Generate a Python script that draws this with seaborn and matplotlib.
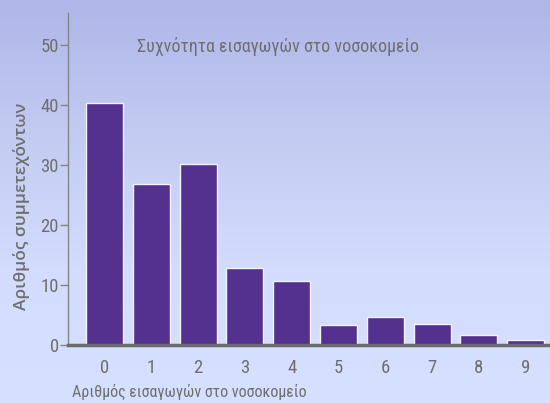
import numpy as np
import pandas as pd
import matplotlib
matplotlib.use("Agg")
import matplotlib.pyplot as plt
import seaborn as sns
from matplotlib.colors import LinearSegmentedColormap

# Hospital admissions: number of admissions vs number of participants
admissions = [0, 1, 2, 3, 4, 5, 6, 7, 8, 9]
participants = [40.3, 26.8, 30.2, 12.8, 10.7, 3.3, 4.7, 3.5, 1.7, 0.8]
y_ticks = [0, 10, 20, 30, 40, 50]

title_text = "Συχνότητα εισαγωγών στο νοσοκομείο"
x_label = "Αριθμός εισαγωγών στο νοσοκομείο"
y_label = "Αριθμός συμμετεχόντων"

df = pd.DataFrame({"admissions": [str(a) for a in admissions],
                   "participants": participants})

sns.set_theme(style="white")
plt.rcParams["font.family"] = ["Roboto Condensed", "Roboto", "DejaVu Sans"]

text_grey = "#6f6f6f"
bar_colour = "#54318f"

fig = plt.figure(figsize=(5.5, 4.03), dpi=100)

# vertical background gradient
bg = fig.add_axes([0, 0, 1, 1], zorder=0)
grad_cmap = LinearSegmentedColormap.from_list(
    "bg", ["#afb6e8", "#c3cbf2", "#d3dcfd", "#d6e0ff"])
bg.imshow(np.linspace(0, 1, 256).reshape(-1, 1), aspect="auto",
          cmap=grad_cmap, extent=[0, 1, 0, 1])
bg.set_axis_off()

ax = fig.add_axes([68 / 550, 58 / 403, 482 / 550, 332 / 403], zorder=1)
ax.patch.set_alpha(0)

sns.barplot(data=df, x="admissions", y="participants", ax=ax,
            color=bar_colour, saturation=1, width=0.79,
            edgecolor="#f4f2fb", linewidth=1.0)

ax.set_xlim(-0.78, 9.52)
ax.set_ylim(0, 55.3)
ax.set_yticks(y_ticks)
ax.set_yticklabels([str(v) for v in y_ticks])

for side in ("top", "right"):
    ax.spines[side].set_visible(False)
ax.spines["left"].set_color("#858585")
ax.spines["left"].set_linewidth(1.0)
ax.spines["bottom"].set_color("#6c6c6c")
ax.spines["bottom"].set_linewidth(2.5)
ax.spines["bottom"].set_zorder(5)

ax.tick_params(axis="y", which="major", left=True, length=6, width=1,
               color="#858585", labelcolor=text_grey, labelsize=13.5, pad=0.5)
ax.tick_params(axis="x", which="major", bottom=False, labelcolor=text_grey,
               labelsize=13.5, pad=4)

ax.set_xlabel("")
ax.set_ylabel("")

fig.text(137 / 550, 1 - 47 / 403, title_text, ha="left", va="center",
         fontsize=13, color=text_grey)
fig.text(72 / 550, 1 - 392 / 403, x_label, ha="left", va="center",
         fontsize=11.5, color=text_grey)
fig.text(22 / 550, 1 - 206 / 403, y_label, ha="center", va="center",
         rotation=90, fontsize=12.5, color=text_grey, fontweight="semibold",
         family=["Open Sans", "DejaVu Sans"])

fig.savefig("out.png", dpi=100)
